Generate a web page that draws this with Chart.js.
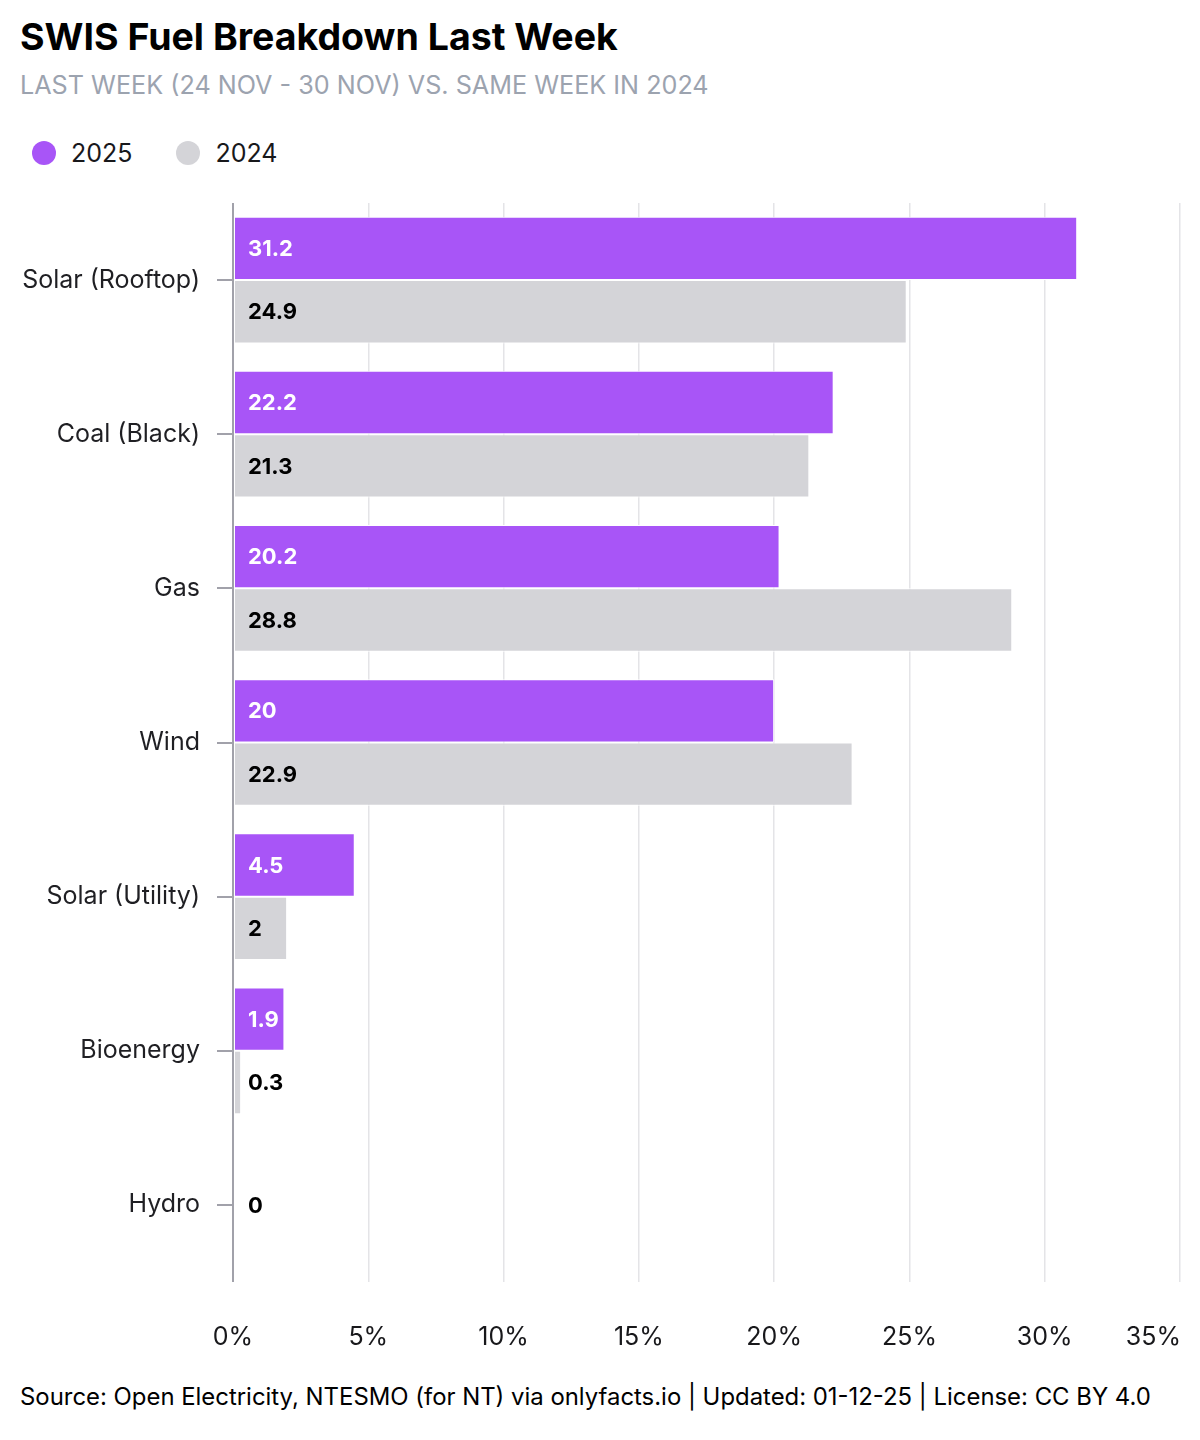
<!DOCTYPE html>
<html><head><meta charset="utf-8">
<script src="https://cdn.jsdelivr.net/npm/chart.js@4"></script>
<style>
body{margin:0;background:#fff;font-family:Inter,"Noto Sans",sans-serif;}
#wrap{position:relative;width:1200px;height:1440px;overflow:hidden;}
#title{position:absolute;left:20px;top:15px;font-size:37.5px;font-weight:700;color:#000;letter-spacing:0px;line-height:44px;white-space:nowrap;}
#sub{position:absolute;left:20px;top:69px;font-size:25.2px;color:#9ca3af;line-height:32px;white-space:nowrap;}
#legend{position:absolute;left:32px;top:137px;height:32px;display:flex;align-items:center;font-size:25px;color:#18181b;}
#legend .item{display:flex;align-items:center;margin-right:44px;}
#legend .dot{width:24px;height:24px;border-radius:50%;margin-right:15px;}
#cw{position:absolute;left:0;top:171px;width:1200px;height:1189px;}
#foot{position:absolute;left:20px;top:1381px;font-size:23.9px;line-height:32px;color:#000;white-space:nowrap;}
</style>
</head>
<body>
<div id="wrap">
  <div id="title">SWIS Fuel Breakdown Last Week</div>
  <div id="sub">LAST WEEK (24 NOV - 30 NOV) VS. SAME WEEK IN 2024</div>
  <div id="legend"></div>
  <div id="cw"><canvas id="c"></canvas></div>
  <div id="foot">Source: Open Electricity, NTESMO (for NT) via onlyfacts.io | Updated: 01-12-25 | License: CC BY 4.0</div>
</div>
<script>
const categories = ['Solar (Rooftop)','Coal (Black)','Gas','Wind','Solar (Utility)','Bioenergy','Hydro'];
const values2025 = [31.2, 22.2, 20.2, 20, 4.5, 1.9, null];
const values2024 = [24.9, 21.3, 28.8, 22.9, 2, 0.3, 0];
const seriesLabels = ['2025','2024'];
const seriesColors = ['#a855f7','#d4d4d8'];
const labelColors = ['#ffffff','#000000'];
const xTickValues = [0,5,10,15,20,25,30,35];

const FONT = 'Inter, "Noto Sans", sans-serif';

const lg = document.getElementById('legend');
seriesLabels.forEach((l,i)=>{
  const it=document.createElement('div'); it.className='item';
  const d=document.createElement('span'); d.className='dot'; d.style.background=seriesColors[i];
  const t=document.createElement('span'); t.textContent=l;
  it.appendChild(d); it.appendChild(t); lg.appendChild(it);
});

const valueLabels = {
  id:'valueLabels',
  afterDatasetsDraw(chart){
    const ctx=chart.ctx, x0=chart.scales.x.getPixelForValue(0);
    ctx.save();
    ctx.font='700 22px '+FONT;
    ctx.textAlign='left'; ctx.textBaseline='middle';
    chart.data.datasets.forEach((ds,i)=>{
      const meta=chart.getDatasetMeta(i);
      meta.data.forEach((el,j)=>{
        const v=ds.data[j];
        if(v===null||v===undefined) return;
        ctx.fillStyle=labelColors[i];
        ctx.fillText(String(v), x0+15, el.y+1);
      });
    });
    ctx.restore();
  }
};

const xLabels = {
  id:'xLabels',
  afterDraw(chart){
    const ctx=chart.ctx, sx=chart.scales.x, area=chart.chartArea;
    ctx.save();
    ctx.font='400 25px '+FONT;
    ctx.fillStyle='#18181b';
    ctx.textBaseline='middle';
    sx.ticks.forEach((t,i)=>{
      const x=sx.getPixelForValue(t.value);
      const last = i===sx.ticks.length-1;
      ctx.textAlign= last ? 'right':'center';
      ctx.fillText(t.value+'%', last ? x+1 : x, area.bottom+55);
    });
    ctx.restore();
  }
};

new Chart(document.getElementById('c'), {
  type:'bar',
  data:{
    labels:categories,
    datasets:[
      {label:seriesLabels[0], data:values2025, backgroundColor:seriesColors[0], borderColor:'#ffffff', borderWidth:1, borderSkipped:false},
      {label:seriesLabels[1], data:values2024, backgroundColor:seriesColors[1], borderColor:'#ffffff', borderWidth:1, borderSkipped:false}
    ]
  },
  options:{
    indexAxis:'y',
    responsive:true,
    maintainAspectRatio:false,
    animation:false,
    skipNull:true,
    categoryPercentage:0.822,
    barPercentage:1,
    layout:{padding:{top:11,right:20,bottom:78,left:0}},
    plugins:{legend:{display:false},tooltip:{enabled:false}},
    scales:{
      x:{
        min:0,max:35,
        afterBuildTicks(s){ s.ticks = xTickValues.map(v=>({value:v})); },
        ticks:{display:false},
        grid:{
          drawTicks:false,
          color:c=> c.tick && c.tick.value===0 ? '#a1a1aa' : '#e4e4e7',
          lineWidth:c=> c.tick && c.tick.value===0 ? 2 : 1.5
        },
        border:{display:false}
      },
      y:{
        afterFit(s){ s.width=233; },
        grid:{offset:false, drawOnChartArea:false, drawTicks:true, tickLength:16, color:'#a1a1aa', lineWidth:2},
        border:{display:false},
        ticks:{padding:17, color:'#1f1f23', font:{family:FONT, size:25}}
      }
    }
  },
  plugins:[valueLabels,xLabels]
});
</script>
</body></html>
